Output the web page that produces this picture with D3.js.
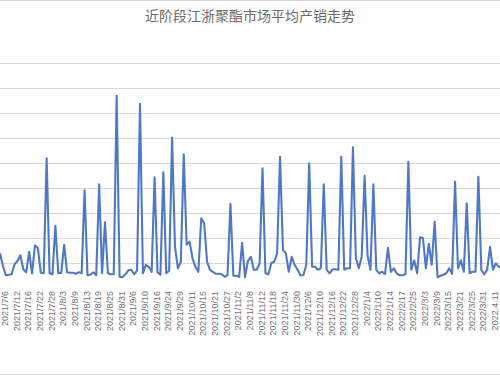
<!DOCTYPE html>
<html>
<head>
<meta charset="utf-8">
<script src="https://cdn.jsdelivr.net/npm/d3@7"></script>
<style>
  body { margin: 0; background: #fff; }
  .axis path, .axis line { display: none; }
  .axis text { font-family: "Liberation Sans", Arial, sans-serif; font-size: 9px; fill: #737373; }
  .grid line { stroke: #d9d9d9; stroke-width: 1; }
</style>
</head>
<body>
<svg class="chart" width="500" height="375"></svg>
<script>
// 产销率 (%) per trading day, first two points sit before 2021/7/6
var salesRatio = [70, 45,
  26, 27, 28, 48, 55, 66, 38, 32, 73, 30, 86, 80, 31, 30, 260, 30, 28, 125,
  30, 31, 87, 32, 31, 31, 29, 32, 30, 196, 26, 27, 32, 26, 208, 30, 132, 30, 28, 28,
  385, 23, 22, 28, 36, 37, 28, 36, 369, 30, 47, 43, 33, 222, 32, 27, 232, 30, 35, 301,
  83, 40, 53, 268, 87, 93, 60, 43, 33, 140, 130, 53, 37, 33, 29, 29, 28, 23, 26, 169,
  25, 25, 23, 91, 22, 55, 63, 37, 37, 50, 240, 30, 28, 50, 53, 70, 263, 77, 70, 33,
  63, 47, 37, 26, 26, 47, 250, 43, 43, 37, 40, 208, 37, 30, 38, 38, 37, 263, 37, 40,
  40, 282, 60, 40, 63, 225, 66, 37, 208, 37, 30, 33, 29, 81, 33, 40, 30, 26, 26, 28,
  253, 37, 56, 30, 102, 100, 40, 89, 47, 133, 22, 25, 27, 30, 40, 29, 213, 40, 56, 33,
  170, 30, 33, 33, 223, 37, 28, 37, 83, 37, 50, 43, 40];

var tickLabels = ["2021/7/6", "2021/7/12", "2021/7/16", "2021/7/22", "2021/7/28", "2021/8/3",
  "2021/8/9", "2021/8/13", "2021/8/19", "2021/8/25", "2021/8/31", "2021/9/6", "2021/9/10",
  "2021/9/16", "2021/9/24", "2021/9/29", "2021/10/11", "2021/10/15", "2021/10/21", "2021/10/27",
  "2021/11/2", "2021/11/8", "2021/11/12", "2021/11/18", "2021/11/24", "2021/11/30", "2021/12/6",
  "2021/12/10", "2021/12/16", "2021/12/22", "2021/12/28", "2022/1/4", "2022/1/10", "2022/1/14",
  "2022/2/17", "2022/2/25", "2022/3/3", "2022/3/9", "2022/3/15", "2022/3/21", "2022/3/25",
  "2022/3/31", "2022.4.11"];

var gridValues = [50, 100, 150, 200, 250, 300, 350, 400, 450];

var svg = d3.select(".chart");

// outer frame of the (cropped) chart area
svg.append("line").attr("x1", 0).attr("x2", 500).attr("y1", 0.5).attr("y2", 0.5)
    .attr("stroke", "#d9d9d9");
svg.append("line").attr("x1", 0).attr("x2", 500).attr("y1", 374.5).attr("y2", 374.5)
    .attr("stroke", "#d9d9d9");

svg.append("text")
    .attr("x", 250)
    .attr("y", 21)
    .attr("text-anchor", "middle")
    .style("font-family", "'Noto Sans CJK SC', sans-serif")
    .style("font-size", "14px")
    .style("fill", "#6b6b6b")
    .text("近阶段江浙聚酯市场平均产销走势");

var x = d3.scaleLinear().domain([0, 168]).range([5.8, 495.9]);
var y = d3.scaleLinear().domain([0, 450]).range([288.3, 63.3]);

svg.append("g")
    .attr("class", "grid")
  .selectAll("line")
  .data(gridValues)
  .enter().append("line")
    .attr("x1", 0)
    .attr("x2", 500)
    .attr("y1", function(d) { return Math.round(y(d)) + 0.5; })
    .attr("y2", function(d) { return Math.round(y(d)) + 0.5; });

var xAxis = d3.axisBottom(x)
    .tickValues(d3.range(0, 169, 4))
    .tickSize(0)
    .tickFormat(function(d, i) { return tickLabels[i]; });

svg.append("g")
    .attr("class", "axis")
    .attr("transform", "translate(-1.5," + 291 + ")")
    .call(xAxis)
  .selectAll("text")
    .attr("transform", "rotate(-90)")
    .attr("x", 0)
    .attr("y", 0)
    .attr("dy", "0.35em")
    .attr("text-anchor", "end");

var line = d3.line()
    .x(function(d, i) { return x(i - 2); })
    .y(function(d) { return y(d); });

svg.append("path")
    .datum(salesRatio)
    .attr("fill", "none")
    .attr("stroke", "#4f78c8")
    .attr("stroke-width", 2.1)
    .attr("stroke-linejoin", "round")
    .attr("d", line);
</script>
</body>
</html>
